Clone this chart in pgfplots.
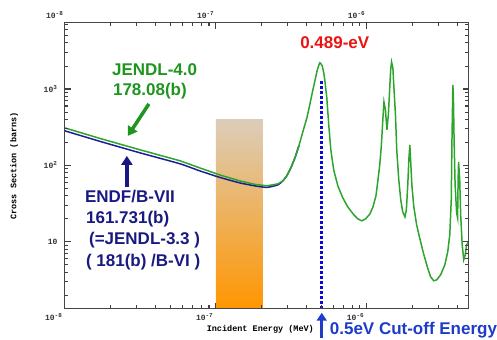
\documentclass[border=0pt]{standalone}
\usepackage{fontspec}
\setmainfont{Liberation Sans}
\setmonofont{Liberation Mono}
\usepackage{pgfplots}
\pgfplotsset{compat=1.18}
\usetikzlibrary{arrows.meta}
\definecolor{lgreen}{RGB}{45,165,45}
\definecolor{tgreen}{RGB}{30,150,30}
\definecolor{lnavy}{RGB}{30,30,150}
\definecolor{tnavy}{RGB}{25,25,130}
\definecolor{tred}{RGB}{235,20,20}
\definecolor{tblue}{RGB}{30,60,200}
\definecolor{dblue}{RGB}{10,10,220}
\definecolor{rtop}{RGB}{220,205,185}
\definecolor{rbot}{RGB}{255,150,0}
\definecolor{axgray}{RGB}{70,70,70}
\newcommand{\tickfont}{\fontsize{8}{9}\selectfont\ttfamily\bfseries}
\newcommand{\sx}[1]{\textsuperscript{\fontsize{6}{6}\selectfont #1}}
\newcommand{\bigtxt}{\fontsize{17}{20}\selectfont\bfseries}
\begin{document}
\begin{tikzpicture}
\begin{axis}[
  at={(0,0)}, anchor=south west,
  scale only axis, width=404pt, height=286pt,
  axis on top,
  xmode=log, ymode=log,
  xmin=1e-8, xmax=4.73e-6, ymin=1.33, ymax=7300,
  xtick={1e-8,1e-7,1e-6},
  xticklabels={10\sx{-8},10\sx{-7},10\sx{-6}},
  ytick={10,100,1000},
  yticklabels={10,10\sx{2},10\sx{3}},
  extra x ticks={1e-8,1e-7,1e-6},
  extra x tick labels={10\sx{-8},10\sx{-7},10\sx{-6}},
  extra x tick style={xticklabel pos=upper, major tick length=0pt,
     xticklabel style={anchor=south east, xshift=1pt, yshift=2pt}},
  tick align=inside,
  major tick length=6pt, minor tick length=3.5pt,
  tick style={black!75, line width=0.9pt},
  axis line style={axgray, line width=1pt},
  ticklabel style={font=\tickfont, text=black!80},
  xticklabel style={anchor=north east, xshift=1pt, yshift=-1pt},
  yticklabel style={anchor=east, xshift=-4pt},
  xlabel={Incident Energy (MeV)},
  ylabel={Cross Section (barns)},
  label style={font=\fontsize{8.5}{10}\selectfont\ttfamily\bfseries},
  xlabel style={at={(axis description cs:0.484,-0.0804)}, anchor=base},
  ylabel style={at={(axis description cs:-0.126,0.5)}, anchor=center},
]
% shaded energy band
\addplot[draw=none, top color=rtop, bottom color=rbot, forget plot]
  coordinates {(1e-7,1.33) (1e-7,394) (2.05e-7,394) (2.05e-7,1.33)} -- cycle;
% ENDF/B-VII
\addplot[lnavy, line width=1.5pt, smooth, tension=0.3] coordinates {
(1e-8,283) (1.71e-8,206) (3.14e-8,146) (5.78e-8,105) (7.83e-8,84.7)
(1.06e-7,69.7) (1.44e-7,59) (1.81e-7,54) (2.18e-7,51.5) (2.58e-7,55.6)
(2.78e-7,62.7) (2.95e-7,73) (3.14e-7,92.7) (3.34e-7,125) (3.55e-7,180)
};
% JENDL-4.0
\addplot[lgreen, line width=1.5pt] coordinates {
(1e-8,309) (1.71e-8,225) (3.14e-8,160) (5.78e-8,115) (7.83e-8,92.7)
(1.06e-7,75.1) (1.44e-7,62.7) (1.81e-7,56.5) (2.18e-7,54) (2.58e-7,57.3)
(2.78e-7,62.7) (2.95e-7,73) (3.14e-7,92.7) (3.34e-7,125) (3.55e-7,180)
(3.77e-7,274) (4.01e-7,418) (4.19e-7,618) (4.38e-7,942) (4.56e-7,1350)
(4.70e-7,1770) (4.84e-7,2120) (4.89e-7,2200) (4.96e-7,2150) (5.07e-7,2000)
(5.19e-7,1620) (5.27e-7,1310) (5.43e-7,785) (5.60e-7,338) (5.78e-7,160)
(6.04e-7,87.3) (6.43e-7,54) (6.94e-7,37.6) (7.48e-7,28.7) (8.20e-7,22.6)
(8.71e-7,20) (9.26e-7,18.8) (9.84e-7,20) (1.05e-6,23.2) (1.10e-6,28.7)
(1.15e-6,39.9) (1.18e-6,59) (1.22e-6,102) (1.25e-6,185) (1.28e-6,418)
(1.30e-6,676) (1.33e-6,531) (1.36e-6,291) (1.39e-6,457) (1.42e-6,1030)
(1.44e-6,1770) (1.46e-6,2250) (1.49e-6,1880) (1.51e-6,1130) (1.55e-6,457)
(1.58e-6,160) (1.63e-6,64.6) (1.68e-6,35.4) (1.73e-6,24.7) (1.79e-6,21.2)
(1.83e-6,26.2) (1.87e-6,55.6) (1.90e-6,118) (1.93e-6,185) (1.95e-6,125)
(1.99e-6,55.6) (2.05e-6,28.7) (2.14e-6,16.7) (2.24e-6,11.3) (2.38e-6,6.97)
(2.53e-6,4.57) (2.65e-6,3.48) (2.78e-6,3.09) (2.91e-6,3.18) (3.09e-6,3.71)
(3.29e-6,5.0) (3.44e-6,7.4) (3.55e-6,12.4) (3.63e-6,35.4) (3.67e-6,215)
(3.72e-6,1130) (3.75e-6,836) (3.79e-6,215) (3.85e-6,55.6) (3.94e-6,23.9)
(4.00e-6,20.6) (4.03e-6,64.6) (4.06e-6,111) (4.13e-6,64.6) (4.19e-6,22.5)
(4.29e-6,9.1) (4.39e-6,5.82) (4.49e-6,6.7) (4.59e-6,9.1) (4.73e-6,10)
};
% 0.5 eV cut-off
\addplot[dblue, line width=2.6pt, dash pattern=on 2.6pt off 2.4pt] coordinates {(5e-7,1.33) (5e-7,1310)};
\end{axis}
\begin{scope}[x=1pt, y=-1pt, shift={(-65pt,309pt)}]
% tick marks on all four sides
\foreach \t in {216,367} {
  \draw[black!75, line width=0.9pt] (\t,309) -- (\t,303);
  \draw[black!75, line width=0.9pt] (\t,23) -- (\t,29);
}
\foreach \t in {110.5,137,155.9,170.5,182.5,192.6,201.4,209.1,261.5,288,306.9,321.5,333.5,343.6,352.4,360.1,412.5,439,457.9} {
  \draw[black!75, line width=0.8pt] (\t,309) -- (\t,305.5);
  \draw[black!75, line width=0.8pt] (\t,23) -- (\t,26.5);
}
\foreach \t in {242,165.5,89} {
  \draw[black!75, line width=0.9pt] (65,\t) -- (71,\t);
  \draw[black!75, line width=0.9pt] (469,\t) -- (463,\t);
}
\foreach \t in {295.5,282,272.4,265,259,253.9,249.4,245.5,219,205.5,195.9,188.5,182.5,177.4,172.9,169,142.5,129,119.4,112,106,100.9,96.4,92.5,66,52.5,42.9,35.5,29.5,24.4} {
  \draw[black!75, line width=0.8pt] (65,\t) -- (68.5,\t);
  \draw[black!75, line width=0.8pt] (469,\t) -- (465.5,\t);
}
\node[anchor=center, text=tred, font=\bigtxt, inner sep=0pt] at (335,43) {0.489-eV};
\node[anchor=base west, text=tgreen, font=\bigtxt, inner sep=0pt] at (112,76) {JENDL-4.0};
\node[anchor=base west, text=tgreen, font=\bigtxt, inner sep=0pt] at (113,96) {178.08(b)};
\draw[tgreen, line width=3.5pt, -{Triangle[length=9pt,width=11pt]}] (149,104) -- (128,136);
\draw[tnavy, line width=3.5pt, -{Triangle[length=9pt,width=11pt]}] (127,187) -- (127,156);
\node[anchor=base west, text=tnavy, font=\bigtxt, inner sep=0pt] at (85,203) {ENDF/B-VII};
\node[anchor=base west, text=tnavy, font=\bigtxt, inner sep=0pt] at (86,224) {161.731(b)};
\node[anchor=base west, text=tnavy, font=\bigtxt, inner sep=0pt] at (89,245) {(=JENDL-3.3 )};
\node[anchor=base west, text=tnavy, font=\bigtxt, inner sep=0pt] at (86,267) {( 181(b) /B-VI )};
\draw[tblue, line width=3pt, -{Triangle[length=8pt,width=10pt]}] (322,338) -- (322,313);
\node[anchor=base west, text=tblue, font=\bigtxt, inner sep=0pt] at (330,335) {0.5eV Cut-off Energy};
\path (0,0) rectangle (497,340);
\end{scope}
\end{tikzpicture}
\end{document}
